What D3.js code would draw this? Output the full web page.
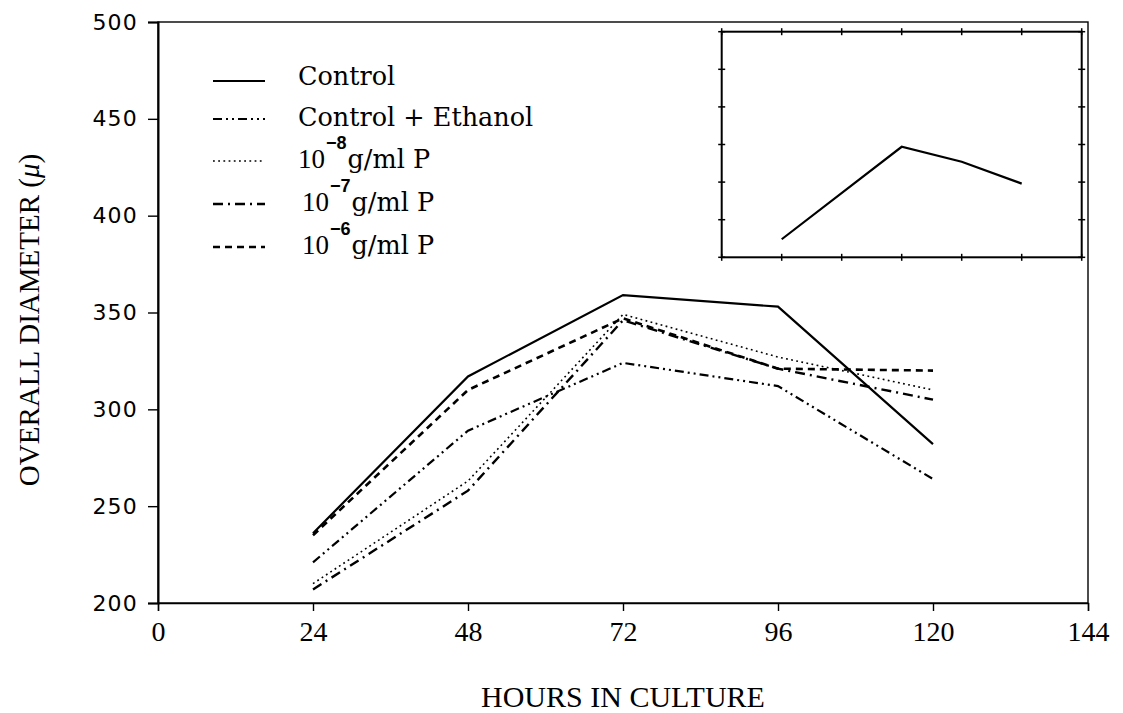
<!DOCTYPE html>
<html>
<head>
<meta charset="utf-8">
<script src="https://cdn.jsdelivr.net/npm/d3@7"></script>
<style>
  html, body { margin: 0; padding: 0; background: #fff; }
  svg { display: block; }
</style>
</head>
<body>
<svg id="chart" width="1123" height="713"></svg>
<script>
// ---- data ----
const hours = [24, 48, 72, 96, 120];
const control = [236, 317, 359, 353, 282];
const controlEthanol = [221, 289, 324, 312, 264];
const p8 = [210, 263, 349, 327, 310];
const p7 = [207, 258, 346, 321, 305];
const p6 = [235, 310, 347, 321, 320];

const insetHours = [24, 72, 96, 120];
const insetValues = [224, 347, 327, 298];

const xTicks = [0, 24, 48, 72, 96, 120, 144];
const yTicks = [200, 250, 300, 350, 400, 450, 500];

const seriesNames = ["Control", "Control + Ethanol", "-8", "-7", "-6"];

// ---- layout ----
const svg = d3.select("#chart");
const L = 158, R = 1088, T = 22, B = 603;
const x = d3.scaleLinear().domain([0, 144]).range([L, R]);
const y = d3.scaleLinear().domain([200, 500]).range([B, T]);

const styles = [
  { data: control, dash: null, width: 2.2 },
  { data: controlEthanol, dash: "9,4,2,4,2,4", width: 2.2 },
  { data: p8, dash: "1.8,3.4", width: 1.6 },
  { data: p7, dash: "10,5,2,5", width: 2.4 },
  { data: p6, dash: "7,5", width: 2.6 }
];

// frame
svg.append("rect").attr("x", L).attr("y", T).attr("width", R - L).attr("height", B - T)
  .attr("fill", "none").attr("stroke", "#000").attr("stroke-width", 1.4);

// y axis
const yAxis = svg.append("g").attr("transform", `translate(${L},0)`)
  .call(d3.axisLeft(y).tickValues(yTicks).tickSize(10).tickPadding(10));
yAxis.select(".domain").attr("stroke-width", 2);
yAxis.selectAll("line").attr("stroke-width", 1.4);
yAxis.selectAll("text").attr("font-family", "DejaVu Sans").attr("font-size", 22)
  .attr("letter-spacing", 1.2).attr("fill", "#000");

// x axis
const xAxis = svg.append("g").attr("transform", `translate(0,${B})`)
  .call(d3.axisBottom(x).tickValues(xTicks).tickSize(8).tickPadding(10));
xAxis.select(".domain").attr("stroke-width", 1.4);
xAxis.selectAll("line").attr("stroke-width", 1.4);
xAxis.selectAll("text").attr("font-family", "Liberation Serif").attr("font-size", 28)
  .attr("fill", "#000");

// axis titles
svg.append("text").attr("x", (L + R) / 2).attr("y", 707).attr("text-anchor", "middle")
  .attr("font-family", "Liberation Serif").attr("font-size", 30).text("HOURS IN CULTURE");
const yt = svg.append("text").attr("transform", "translate(39,320) rotate(-90)").attr("text-anchor", "middle")
  .attr("font-family", "Liberation Serif").attr("font-size", 29);
yt.append("tspan").text("OVERALL DIAMETER (");
yt.append("tspan").attr("font-style", "italic").text("\u03BC");
yt.append("tspan").text(")");

// series
const line = d3.line().x((d, i) => x(hours[i])).y(d => y(d));
styles.forEach(s => {
  svg.append("path").attr("d", line(s.data)).attr("fill", "none").attr("stroke", "#000")
    .attr("stroke-width", s.width).attr("stroke-dasharray", s.dash);
});

// legend
const legRows = [81, 119, 161, 204, 247];
const textBase = [85, 126, 168, 211, 254];
styles.forEach((s, i) => {
  svg.append("line").attr("x1", 213).attr("x2", 265).attr("y1", legRows[i]).attr("y2", legRows[i])
    .attr("stroke", "#000").attr("stroke-width", s.width).attr("stroke-dasharray", s.dash);
  if (i < 2) {
    svg.append("text").attr("x", 298).attr("y", textBase[i]).attr("font-family", "DejaVu Serif")
      .attr("font-size", 25.5).text(seriesNames[i]);
  } else {
    const x0 = i === 2 ? 298 : 302;
    const t = svg.append("text").attr("x", x0).attr("y", textBase[i]).attr("font-family", "DejaVu Serif")
      .attr("font-size", 25.5);
    t.append("tspan").attr("font-family", "Liberation Serif").attr("font-size", 27).text("10");
    t.append("tspan").attr("dx", 1).attr("dy", -19).attr("font-family", "Liberation Sans")
      .attr("font-size", 18).attr("font-weight", "bold").text(seriesNames[i].replace("-", "\u2212"));
    t.append("tspan").attr("dx", 1).attr("dy", 19).text("g/ml P");
  }
});

// inset
const iL = 721.7, iR = 1081.7, iT = 31.7, iB = 257.3;
const ix = d3.scaleLinear().domain([0, 144]).range([iL, iR]);
const iy = d3.scaleLinear().domain([200, 500]).range([iB, iT]);
const ins = svg.append("g");
ins.append("rect").attr("x", iL).attr("y", iT).attr("width", iR - iL).attr("height", iB - iT)
  .attr("fill", "#fff").attr("stroke", "#000").attr("stroke-width", 2);
const tk = 3.5;
xTicks.forEach(t => {
  [iT, iB].forEach(yy => ins.append("line").attr("x1", ix(t)).attr("x2", ix(t))
    .attr("y1", yy - tk).attr("y2", yy + tk).attr("stroke", "#000").attr("stroke-width", 1.5));
});
yTicks.forEach(t => {
  [iL, iR].forEach(xx => ins.append("line").attr("y1", iy(t)).attr("y2", iy(t))
    .attr("x1", xx - tk).attr("x2", xx + tk).attr("stroke", "#000").attr("stroke-width", 1.5));
});
const iline = d3.line().x((d, i) => ix(insetHours[i])).y(d => iy(d));
ins.append("path").attr("d", iline(insetValues)).attr("fill", "none").attr("stroke", "#000")
  .attr("stroke-width", 2.2);
</script>
</body>
</html>
